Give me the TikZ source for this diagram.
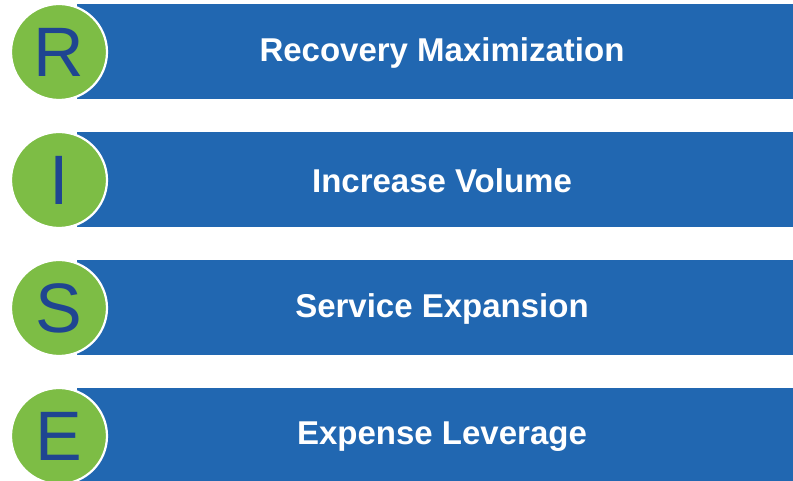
\documentclass[tikz,border=0pt]{standalone}
\usepackage{fontspec}
\setmainfont{Liberation Sans}
\definecolor{barblue}{HTML}{2167B1}
\definecolor{risegreen}{HTML}{7DBD45}
\definecolor{letterblue}{HTML}{1F4591}
\begin{document}
\begin{tikzpicture}[x=1pt,y=1pt,
  bar/.style={fill=barblue,draw=none},
  badge/.style={circle,fill=risegreen,draw=white,line width=2.2pt,minimum size=96pt,inner sep=0pt,
     font=\fontsize{70}{70}\selectfont,text=letterblue},
  label/.style={font=\bfseries\fontsize{33}{35}\selectfont,text=white}]
\useasboundingbox (0,0) rectangle (793,481);
\clip (0,0) rectangle (793,481);
\foreach \k/\L/\T in {0/R/Recovery Maximization,1/I/Increase Volume,2/S/Service Expansion,3/E/Expense Leverage}{
  \pgfmathsetmacro{\top}{481-4-128*\k}
  \fill[bar] (77,\top-95) rectangle (800,\top);
  \node[label] (t\k) at (442,\top-48.5) {\T};
  \node[badge] (c\k) at (59,\top-48) {\L};
}
\end{tikzpicture}
\end{document}
